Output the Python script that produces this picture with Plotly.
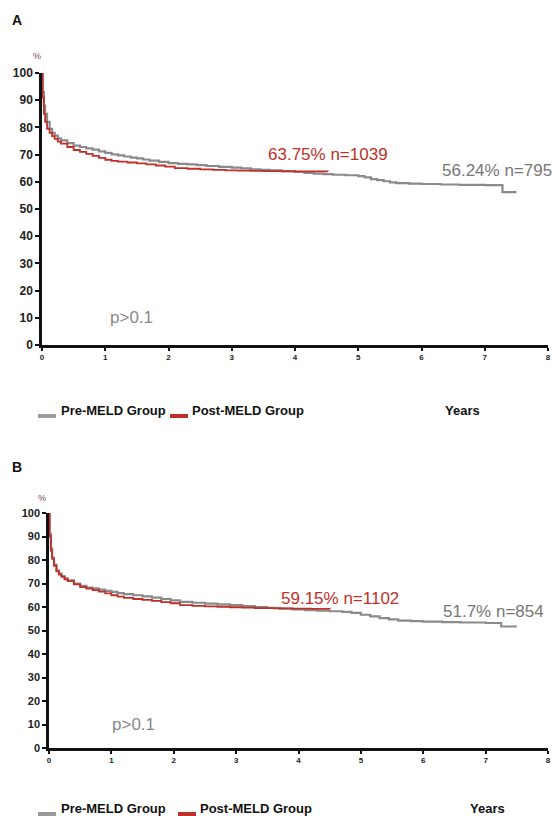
import plotly.graph_objects as go

# ---------------- data ----------------
a_pre_t = [0, 0.01, 0.03, 0.05, 0.08, 0.12, 0.16, 0.2, 0.25, 0.3, 0.4, 0.5, 0.6, 0.7, 0.8, 0.9, 1.0, 1.1,
           1.2, 1.3, 1.4, 1.5, 1.6, 1.7, 1.85, 2.0, 2.15, 2.3, 2.45, 2.6, 2.8, 3.0, 3.15, 3.3, 3.45,
           3.6, 3.8, 4.0, 4.15, 4.3, 4.45, 4.6, 4.8, 5.0, 5.1, 5.2, 5.3, 5.4, 5.5, 5.6, 5.8, 6.0,
           6.3, 6.6, 7.0, 7.28, 7.5]
a_pre_s = [100, 93, 88, 85, 82, 79.5, 78, 77, 76, 75.2, 74.2, 73.3, 72.8, 72.3, 71.8, 71.2, 70.6, 70.1,
           69.7, 69.3, 68.9, 68.6, 68.2, 67.8, 67.3, 66.9, 66.6, 66.4, 66.1, 65.8, 65.5, 65.2, 64.9, 64.6, 64.4,
           64.2, 63.9, 63.6, 63.3, 63.0, 62.8, 62.6, 62.4, 62.1, 61.6, 61.0, 60.6, 60.2, 59.8, 59.5, 59.3, 59.2,
           59.0, 58.9, 58.8, 56.24, 56.24]
a_post_t = [0, 0.01, 0.03, 0.05, 0.08, 0.12, 0.16, 0.2, 0.25, 0.3, 0.4, 0.5, 0.6, 0.7, 0.8, 0.9, 1.0,
            1.1, 1.2, 1.35, 1.5, 1.65, 1.8, 1.95, 2.1, 2.3, 2.5, 2.7, 2.9, 3.1, 3.3, 3.5, 3.8, 4.1, 4.52]
a_post_s = [100, 91, 85, 82, 79.5, 78, 76.8, 75.8, 74.8, 74, 72.8, 71.7, 71, 70.3, 69.5, 68.8, 68.1,
            67.7, 67.4, 67.1, 66.8, 66.4, 66.0, 65.6, 65.0, 64.8, 64.6, 64.4, 64.2, 64.1, 64.0, 63.9, 63.85, 63.8, 63.75]

b_pre_t = [0, 0.01, 0.03, 0.05, 0.08, 0.12, 0.16, 0.2, 0.25, 0.3, 0.4, 0.5, 0.6, 0.7, 0.8, 0.9, 1.0, 1.1,
           1.2, 1.35, 1.5, 1.65, 1.8, 1.95, 2.1, 2.3, 2.5, 2.7, 2.9, 3.1, 3.3, 3.5, 3.7, 3.9, 4.1, 4.3,
           4.5, 4.7, 4.85, 5.0, 5.15, 5.3, 5.45, 5.6, 5.8, 6.0, 6.3, 6.6, 7.0, 7.25, 7.5]
b_pre_s = [100, 91, 85, 81, 78, 75.5, 74.2, 73.2, 72.2, 71.3, 70.0, 69.0, 68.3, 67.9, 67.4, 66.9, 66.4, 65.9,
           65.5, 65.0, 64.5, 64.0, 63.4, 62.8, 62.2, 61.8, 61.4, 61.1, 60.8, 60.4, 60.0, 59.6, 59.3, 59.0, 58.7, 58.4,
           58.2, 57.9, 57.5, 56.7, 56.0, 55.3, 54.7, 54.2, 54.0, 53.8, 53.6, 53.4, 53.2, 51.7, 51.7]
b_post_t = [0, 0.01, 0.03, 0.05, 0.08, 0.12, 0.16, 0.2, 0.25, 0.3, 0.4, 0.5, 0.6, 0.7, 0.8, 0.9, 1.0,
            1.1, 1.2, 1.35, 1.5, 1.65, 1.8, 1.95, 2.1, 2.3, 2.5, 2.7, 2.9, 3.1, 3.3, 3.6, 3.9, 4.2, 4.5]
b_post_s = [100, 90, 84, 80.5, 77.5, 75.2, 73.8, 72.8, 71.8, 71.0, 69.6, 68.5, 67.8, 67.2, 66.5, 65.8, 65.0,
            64.4, 63.9, 63.4, 63.0, 62.6, 62.1, 61.6, 60.8, 60.5, 60.3, 60.1, 59.9, 59.7, 59.5, 59.4, 59.3, 59.2, 59.15]

panel_labels = ["A", "B"]
post_labels = ["63.75% n=1039", "59.15% n=1102"]
pre_labels = ["56.24% n=795", "51.7% n=854"]
p_labels = ["p>0.1", "p>0.1"]
series_names = ["Pre-MELD Group", "Post-MELD Group"]
x_ticks = [0, 1, 2, 3, 4, 5, 6, 7, 8]
y_ticks = [0, 10, 20, 30, 40, 50, 60, 70, 80, 90, 100]

GRAY = "#8a8a8a"
RED = "#c0302a"
W, H = 552, 816
FONT = "Liberation Sans, Arial, sans-serif"

def px_x(p):
    return p / W

def px_y(p):
    return 1 - p / H

fig = go.Figure()
fig.add_trace(go.Scatter(x=a_pre_t, y=a_pre_s, mode="lines", line=dict(color=GRAY, width=2.2, shape="hv"),
                         xaxis="x", yaxis="y", showlegend=False))
fig.add_trace(go.Scatter(x=a_post_t, y=a_post_s, mode="lines", line=dict(color=RED, width=1.8, shape="hv"),
                         xaxis="x", yaxis="y", showlegend=False))
fig.add_trace(go.Scatter(x=b_pre_t, y=b_pre_s, mode="lines", line=dict(color=GRAY, width=2.2, shape="hv"),
                         xaxis="x2", yaxis="y2", showlegend=False))
fig.add_trace(go.Scatter(x=b_post_t, y=b_post_s, mode="lines", line=dict(color=RED, width=1.8, shape="hv"),
                         xaxis="x2", yaxis="y2", showlegend=False))

def xax(domain, anchor):
    return dict(domain=domain, anchor=anchor, range=[0, 8], tickvals=x_ticks, automargin=False,
                showgrid=False, zeroline=False, showline=True, linecolor="#111", linewidth=2.5,
                ticks="outside", ticklen=3, tickwidth=1.5, tickcolor="#111",
                tickfont=dict(family=FONT, size=8, color="#222", weight="bold"), fixedrange=True)

def yax(domain, anchor, size):
    return dict(domain=domain, anchor=anchor, range=[0, 100], tickvals=y_ticks, automargin=False,
                showgrid=False, zeroline=False, showline=True, linecolor="#111", linewidth=2.5,
                ticks="outside", ticklen=4, tickwidth=1.5, tickcolor="#111",
                tickfont=dict(family=FONT, size=size, color="#222", weight="bold"), fixedrange=True)

fig.update_layout(
    width=W, height=H, margin=dict(l=0, r=0, t=0, b=0),
    plot_bgcolor="white", paper_bgcolor="white",
    xaxis=xax([px_x(42), px_x(548)], "y"),
    yaxis=yax([px_y(345), px_y(73)], "x", 12),
    xaxis2=xax([px_x(49), px_x(548)], "y2"),
    yaxis2=yax([px_y(748), px_y(513)], "x2", 11),
)

ann = []
shapes = []
panels = [
    dict(xr="x", yr="y", lab_y=20, pct=(37, 56), post=(4.52, 70), pre=(6.3, 64.3), p=(1.04, 10),
         leg_y=410, red_sw=170, years_x=462),
    dict(xr="x2", yr="y2", lab_y=467, pct=(42, 498), post=(4.66, 63.8), pre=(6.28, 57.9), p=(0.98, 9.8),
         leg_y=808, red_sw=178, years_x=487),
]
for i, pn in enumerate(panels):
    ann.append(dict(x=px_x(17), y=px_y(pn["lab_y"]), xref="paper", yref="paper", text=panel_labels[i],
                    showarrow=False, xanchor="center", yanchor="middle",
                    font=dict(family=FONT, size=14, color="#111", weight="bold")))
    ann.append(dict(x=px_x(pn["pct"][0]), y=px_y(pn["pct"][1]), xref="paper", yref="paper", text="%",
                    showarrow=False, xanchor="center", yanchor="middle",
                    font=dict(family=FONT, size=9, color="#6a4a5a")))
    ann.append(dict(x=pn["post"][0], y=pn["post"][1], xref=pn["xr"], yref=pn["yr"], text=post_labels[i],
                    showarrow=False, xanchor="center", yanchor="middle",
                    font=dict(family=FONT, size=17, color=RED)))
    ann.append(dict(x=pn["pre"][0], y=pn["pre"][1], xref=pn["xr"], yref=pn["yr"], text=pre_labels[i],
                    showarrow=False, xanchor="left", yanchor="middle",
                    font=dict(family=FONT, size=17, color="#777")))
    ann.append(dict(x=pn["p"][0], y=pn["p"][1], xref=pn["xr"], yref=pn["yr"], text=p_labels[i],
                    showarrow=False, xanchor="left", yanchor="middle",
                    font=dict(family=FONT, size=17, color="#888")))
    ly = pn["leg_y"]
    shapes.append(dict(type="line", xref="paper", yref="paper", x0=px_x(38), x1=px_x(56),
                       y0=px_y(ly + 6), y1=px_y(ly + 6), line=dict(color="#9a9a9a", width=4)))
    shapes.append(dict(type="line", xref="paper", yref="paper", x0=px_x(pn["red_sw"]), x1=px_x(pn["red_sw"] + 18),
                       y0=px_y(ly + 6), y1=px_y(ly + 6), line=dict(color=RED, width=4)))
    ann.append(dict(x=px_x(59), y=px_y(ly), xref="paper", yref="paper", text=series_names[0],
                    showarrow=False, xanchor="left", yanchor="middle",
                    font=dict(family=FONT, size=13, color="#111", weight="bold")))
    ann.append(dict(x=px_x(pn["red_sw"] + 20), y=px_y(ly), xref="paper", yref="paper", text=series_names[1],
                    showarrow=False, xanchor="left", yanchor="middle",
                    font=dict(family=FONT, size=13, color="#111", weight="bold")))
    ann.append(dict(x=px_x(pn["years_x"]), y=px_y(ly), xref="paper", yref="paper", text="Years",
                    showarrow=False, xanchor="center", yanchor="middle",
                    font=dict(family=FONT, size=13, color="#111", weight="bold")))

fig.update_layout(annotations=ann, shapes=shapes)
fig.write_html("out.html", config={"displayModeBar": False},
               post_script="document.body.style.margin='0';document.body.style.overflow='hidden';")
